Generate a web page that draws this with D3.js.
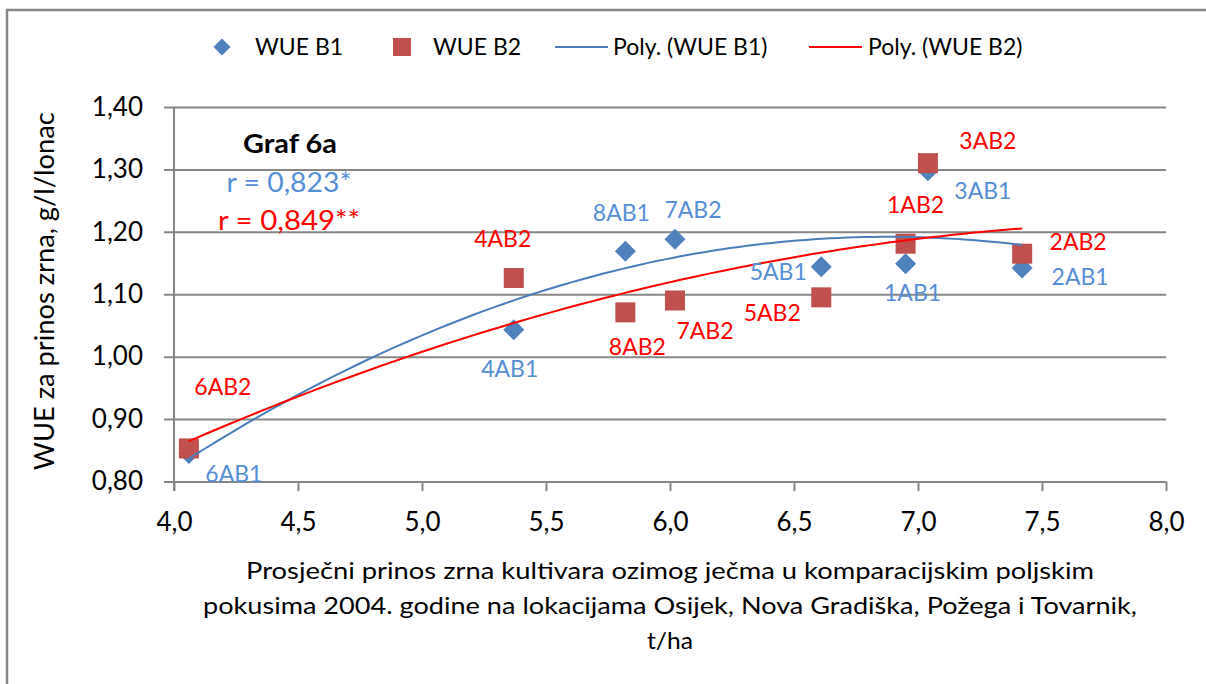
<!DOCTYPE html>
<html>
<head>
<meta charset="utf-8">
<script src="https://cdn.jsdelivr.net/npm/d3@7"></script>
<style>
  html, body { margin: 0; background: #fff; overflow: hidden; }
  svg { display: block; font-family: Lato, "Open Sans", sans-serif; }
</style>
</head>
<body>
<svg id="chart"></svg>
<script>
// Data
const yieldX = [6.95, 7.42, 7.04, 5.37, 6.61, 4.06, 6.02, 5.82];
const wueB1 = [1.149, 1.142, 1.298, 1.043, 1.144, 0.845, 1.188, 1.169];
const wueB2 = [1.181, 1.165, 1.310, 1.126, 1.095, 0.853, 1.090, 1.071];
const labelsB1 = ['1AB1', '2AB1', '3AB1', '4AB1', '5AB1', '6AB1', '7AB2', '8AB1'];
const labelsB2 = ['1AB2', '2AB2', '3AB2', '4AB2', '5AB2', '6AB2', '7AB2', '8AB2'];
const xTicks = [4.0, 4.5, 5.0, 5.5, 6.0, 6.5, 7.0, 7.5, 8.0];
const yTicks = [0.8, 0.9, 1.0, 1.1, 1.2, 1.3, 1.4];

// Label placement (pixel offsets from each point)
const offB1 = [[7, 29], [58, 9], [55, 20], [-4, 39], [-43, 5], [45, 20], [18, -30], [-4, -38]];
const offB2 = [[10, -39], [56, -12], [60, -22], [-11, -39], [-49, 15], [34, -62], [30, 30], [12, 34]];

const width = 1206;
const height = 684;
const blueMarker = '#4F81BD';
const redMarker = '#C0504D';
const blueText = '#558ED5';
const redText = '#FF0000';
const gridColor = '#878787';

const svg = d3.select('#chart')
  .attr('width', width)
  .attr('height', height);

svg.append('rect')
  .attr('width', width).attr('height', height)
  .attr('fill', '#fff');

// Outer frame: only top and left sides are inside the picture
svg.append('path')
  .attr('d', `M7,${height}V10H${width}`)
  .attr('fill', 'none')
  .attr('stroke', gridColor)
  .attr('stroke-width', 2.5);

const x = d3.scaleLinear().domain([4, 8]).range([174, 1166]);
const y = d3.scaleLinear().domain([0.8, 1.4]).range([481.5, 107]);

const comma = d => d3.format(d >= 2 ? '.1f' : '.2f')(d).replace('.', ',');

// Y gridlines + labels
const yAxis = svg.append('g')
  .attr('transform', 'translate(164,0)')
  .call(d3.axisLeft(y).tickValues(yTicks).tickSize(-(1166 - 164)).tickPadding(21).tickFormat(comma));
yAxis.select('.domain').remove();
yAxis.selectAll('line').attr('stroke', gridColor).attr('stroke-width', 2);
yAxis.selectAll('text').attr('font-size', 26).attr('fill', '#000').attr('font-family', 'Lato');

// X ticks + labels
const xAxis = svg.append('g')
  .attr('transform', `translate(0,${y(0.8)})`)
  .call(d3.axisBottom(x).tickValues(xTicks).tickSize(9.5).tickPadding(22).tickFormat(comma));
xAxis.select('.domain').remove();
xAxis.selectAll('line').attr('stroke', gridColor).attr('stroke-width', 2);
xAxis.selectAll('text').attr('font-size', 26).attr('fill', '#000').attr('font-family', 'Lato');

// Vertical axis line
svg.append('line')
  .attr('x1', x(4)).attr('x2', x(4))
  .attr('y1', y(1.4)).attr('y2', y(0.8) + 9.5)
  .attr('stroke', gridColor).attr('stroke-width', 2);

// Axis titles
svg.append('text')
  .attr('transform', `translate(54,${(y(1.4) + y(0.8)) / 2 - 3}) rotate(-90)`)
  .attr('text-anchor', 'middle')
  .attr('font-size', 26)
  .attr('textLength', 358)
  .attr('lengthAdjust', 'spacingAndGlyphs')
  .text('WUE za prinos zrna, g/l/lonac');

const xTitle = [
  'Prosječni prinos zrna kultivara ozimog ječma u komparacijskim poljskim',
  'pokusima 2004. godine na lokacijama Osijek, Nova Gradiška, Požega i Tovarnik,',
  't/ha'
];
const xTitleLen = [848, 934, 46];
svg.append('g').selectAll('text')
  .data(xTitle)
  .enter()
  .append('text')
  .attr('x', 670)
  .attr('y', (d, i) => 579 + i * 35)
  .attr('text-anchor', 'middle')
  .attr('font-size', 24)
  .attr('textLength', (d, i) => xTitleLen[i])
  .attr('lengthAdjust', 'spacingAndGlyphs')
  .text(d => d);

// Markers
const diamond = r => `M0,${-r}L${r},0L0,${r}L${-r},0Z`;

svg.append('g').selectAll('path')
  .data(yieldX)
  .enter()
  .append('path')
  .attr('d', diamond(10.5))
  .attr('transform', (d, i) => `translate(${x(d)},${y(wueB1[i])})`)
  .attr('fill', blueMarker);

svg.append('g').selectAll('rect')
  .data(yieldX)
  .enter()
  .append('rect')
  .attr('x', d => x(d) - 10)
  .attr('y', (d, i) => y(wueB2[i]) - 10)
  .attr('width', 20)
  .attr('height', 20)
  .attr('fill', redMarker);

// Polynomial (order 2) trendlines, least squares
function polyFit(xs, ys) {
  const s = [0, 0, 0, 0, 0];
  const t = [0, 0, 0];
  xs.forEach((xv, i) => {
    for (let k = 0; k < 5; k++) s[k] += Math.pow(xv, k);
    for (let k = 0; k < 3; k++) t[k] += ys[i] * Math.pow(xv, k);
  });
  const m = [
    [s[0], s[1], s[2], t[0]],
    [s[1], s[2], s[3], t[1]],
    [s[2], s[3], s[4], t[2]]
  ];
  for (let c = 0; c < 3; c++) {
    for (let r = c + 1; r < 3; r++) {
      const f = m[r][c] / m[c][c];
      for (let k = c; k < 4; k++) m[r][k] -= f * m[c][k];
    }
  }
  const b = [0, 0, 0];
  for (let r = 2; r >= 0; r--) {
    let v = m[r][3];
    for (let k = r + 1; k < 3; k++) v -= m[r][k] * b[k];
    b[r] = v / m[r][r];
  }
  return xv => b[0] + b[1] * xv + b[2] * xv * xv;
}

const xMin = d3.min(yieldX);
const xMax = d3.max(yieldX);
const curveX = d3.range(0, 101).map(i => xMin + (xMax - xMin) * i / 100);
const line = d3.line().x(d => x(d[0])).y(d => y(d[1]));

const fitB1 = polyFit(yieldX, wueB1);
const fitB2 = polyFit(yieldX, wueB2);

svg.append('path')
  .datum(curveX.map(v => [v, fitB1(v)]))
  .attr('d', line)
  .attr('fill', 'none')
  .attr('stroke', '#4A7EBB')
  .attr('stroke-width', 2);

svg.append('path')
  .datum(curveX.map(v => [v, fitB2(v)]))
  .attr('d', line)
  .attr('fill', 'none')
  .attr('stroke', '#FF0000')
  .attr('stroke-width', 2);

// Data labels
svg.append('g').selectAll('text')
  .data(labelsB1)
  .enter()
  .append('text')
  .attr('x', (d, i) => x(yieldX[i]) + offB1[i][0])
  .attr('y', (d, i) => y(wueB1[i]) + offB1[i][1])
  .attr('dy', '0.36em')
  .attr('text-anchor', 'middle')
  .attr('font-size', 23)
  .attr('fill', blueText)
  .text(d => d);

svg.append('g').selectAll('text')
  .data(labelsB2)
  .enter()
  .append('text')
  .attr('x', (d, i) => x(yieldX[i]) + offB2[i][0])
  .attr('y', (d, i) => y(wueB2[i]) + offB2[i][1])
  .attr('dy', '0.36em')
  .attr('text-anchor', 'middle')
  .attr('font-size', 23)
  .attr('fill', redText)
  .text(d => d);

// Annotations
svg.append('text')
  .attr('x', 290).attr('y', 153)
  .attr('text-anchor', 'middle')
  .attr('font-size', 26)
  .attr('font-weight', 'bold')
  .attr('textLength', 94)
  .attr('lengthAdjust', 'spacingAndGlyphs')
  .text('Graf 6a');
svg.append('text')
  .attr('x', 289).attr('y', 192)
  .attr('text-anchor', 'middle')
  .attr('font-size', 27)
  .attr('textLength', 125)
  .attr('lengthAdjust', 'spacingAndGlyphs')
  .attr('fill', blueText)
  .text('r = 0,823*');
svg.append('text')
  .attr('x', 289).attr('y', 230)
  .attr('text-anchor', 'middle')
  .attr('font-size', 27)
  .attr('textLength', 142)
  .attr('lengthAdjust', 'spacingAndGlyphs')
  .attr('fill', redText)
  .text('r = 0,849**');

// Legend
const legend = svg.append('g').attr('font-size', 23);
legend.append('path')
  .attr('d', diamond(8.5))
  .attr('transform', 'translate(222,47)')
  .attr('fill', blueMarker);
legend.append('text').attr('x', 255).attr('y', 47).attr('dy', '0.36em').text('WUE B1');
legend.append('rect')
  .attr('x', 393).attr('y', 38).attr('width', 18).attr('height', 18)
  .attr('fill', redMarker);
legend.append('text').attr('x', 433).attr('y', 47).attr('dy', '0.36em').text('WUE B2');
legend.append('line')
  .attr('x1', 555).attr('x2', 608).attr('y1', 47).attr('y2', 47)
  .attr('stroke', '#4A7EBB').attr('stroke-width', 2);
legend.append('text').attr('x', 613).attr('y', 47).attr('dy', '0.36em').text('Poly. (WUE B1)');
legend.append('line')
  .attr('x1', 809).attr('x2', 862).attr('y1', 47).attr('y2', 47)
  .attr('stroke', '#FF0000').attr('stroke-width', 2);
legend.append('text').attr('x', 868).attr('y', 47).attr('dy', '0.36em').text('Poly. (WUE B2)');
</script>
</body>
</html>
